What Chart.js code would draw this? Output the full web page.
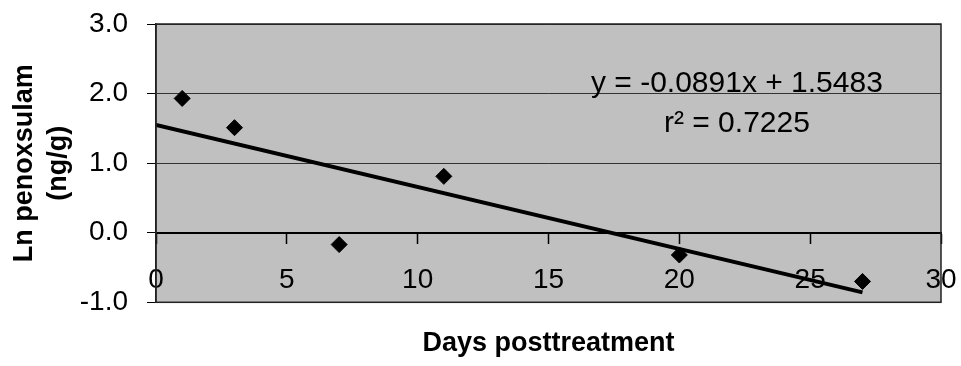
<!DOCTYPE html>
<html>
<head>
<meta charset="utf-8">
<script src="https://cdn.jsdelivr.net/npm/chart.js@4/dist/chart.umd.min.js"></script>
<style>
  body { margin: 0; background: #fff; }
  canvas { display: block; }
</style>
</head>
<body>
<canvas id="decayChart" width="961" height="366"></canvas>
<script>
const days = [1, 3, 7, 11, 20, 27];
const lnPenoxsulam = [1.93, 1.51, -0.17, 0.81, -0.32, -0.70];
const trendDays = [0, 27];
const trendCoef = [-0.0891, 1.5483]; // slope, intercept from the chart's equation
const xTicks = [0, 5, 10, 15, 20, 25, 30];
const yTicks = [-1, 0, 1, 2, 3];
const equationLines = ['y = -0.0891x + 1.5483', 'r² = 0.7225'];

const FONT = "'Liberation Sans', Arial, sans-serif";

const points = days.map((d, i) => ({ x: d, y: lnPenoxsulam[i] }));
const trend = trendDays.map(d => ({ x: d, y: trendCoef[0] * d + trendCoef[1] }));

// gray plot area behind everything, frame on top
const plotArea = {
  id: 'plotArea',
  beforeDraw(chart) {
    const { ctx, chartArea: a } = chart;
    ctx.save();
    ctx.fillStyle = '#c0c0c0';
    ctx.fillRect(a.left, a.top, a.right - a.left, a.bottom - a.top);
    ctx.restore();
  },
  afterDatasetsDraw(chart) {
    const { ctx, chartArea: a } = chart;
    ctx.save();
    ctx.strokeStyle = '#222';
    ctx.lineWidth = 1.5;
    ctx.strokeRect(a.left, a.top, a.right - a.left, a.bottom - a.top);
    ctx.restore();
  }
};

// regression equation text
const equationLabel = {
  id: 'equationLabel',
  afterDatasetsDraw(chart) {
    const { ctx, scales } = chart;
    const cx = scales.x.getPixelForValue(22.2);
    ctx.save();
    ctx.fillStyle = '#000';
    ctx.font = '30px ' + FONT;
    ctx.textAlign = 'center';
    ctx.textBaseline = 'middle';
    ctx.fillText(equationLines[0], cx, scales.y.getPixelForValue(2.14));
    ctx.fillText(equationLines[1], cx, scales.y.getPixelForValue(1.57));
    ctx.restore();
  }
};

new Chart(document.getElementById('decayChart'), {
  type: 'scatter',
  data: {
    datasets: [{
      label: 'Ln penoxsulam',
      data: points,
      pointStyle: 'rectRot',
      pointRadius: 8,
      backgroundColor: '#000',
      borderColor: '#000',
      borderWidth: 1
    }, {
      type: 'line',
      label: 'Linear trend',
      data: trend,
      borderColor: '#000',
      borderWidth: 4,
      pointRadius: 0,
      fill: false
    }]
  },
  options: {
    responsive: false,
    animation: false,
    layout: { padding: { left: 0, right: 20, top: 24, bottom: 0 } },
    plugins: {
      legend: { display: false },
      tooltip: { enabled: false },
      title: {
        display: true,
        position: 'bottom',
        fullSize: false,
        text: 'Days posttreatment',
        color: '#000',
        font: { family: FONT, size: 27, weight: 'bold', lineHeight: 1.1 },
        padding: { top: 26, bottom: 8 }
      }
    },
    scales: {
      x: {
        type: 'linear',
        position: { y: 0 },
        min: xTicks[0],
        max: xTicks[xTicks.length - 1],
        afterBuildTicks: s => { s.ticks = xTicks.map(v => ({ value: v })); },
        afterFit: s => { s.paddingLeft = 0; s.paddingRight = 0; },
        ticks: {
          color: '#000',
          padding: 21,
          autoSkip: false,
          maxRotation: 0,
          font: { family: FONT, size: 28 }
        },
        grid: { drawOnChartArea: false, drawTicks: true, tickLength: 10, tickColor: '#000', tickWidth: 1.5 },
        border: { color: '#000', width: 2 }
      },
      y: {
        min: yTicks[0],
        max: yTicks[yTicks.length - 1],
        afterBuildTicks: s => { s.ticks = yTicks.map(v => ({ value: v })); },
        afterFit: s => { s.width = 156; s.paddingTop = 0; s.paddingBottom = 0; },
        ticks: {
          color: '#000',
          padding: 19,
          font: { family: FONT, size: 28 },
          callback: v => v.toFixed(1)
        },
        grid: { color: '#333', lineWidth: 1, tickLength: 9, tickColor: '#000' },
        border: { color: '#222', width: 1.5 },
        title: {
          display: true,
          text: ['Ln penoxsulam', '(ng/g)'],
          color: '#000',
          font: { family: FONT, size: 27, weight: 'bold', lineHeight: 1.25 },
          padding: { top: 8, bottom: 0 }
        }
      }
    }
  },
  plugins: [plotArea, equationLabel]
});
</script>
</body>
</html>
